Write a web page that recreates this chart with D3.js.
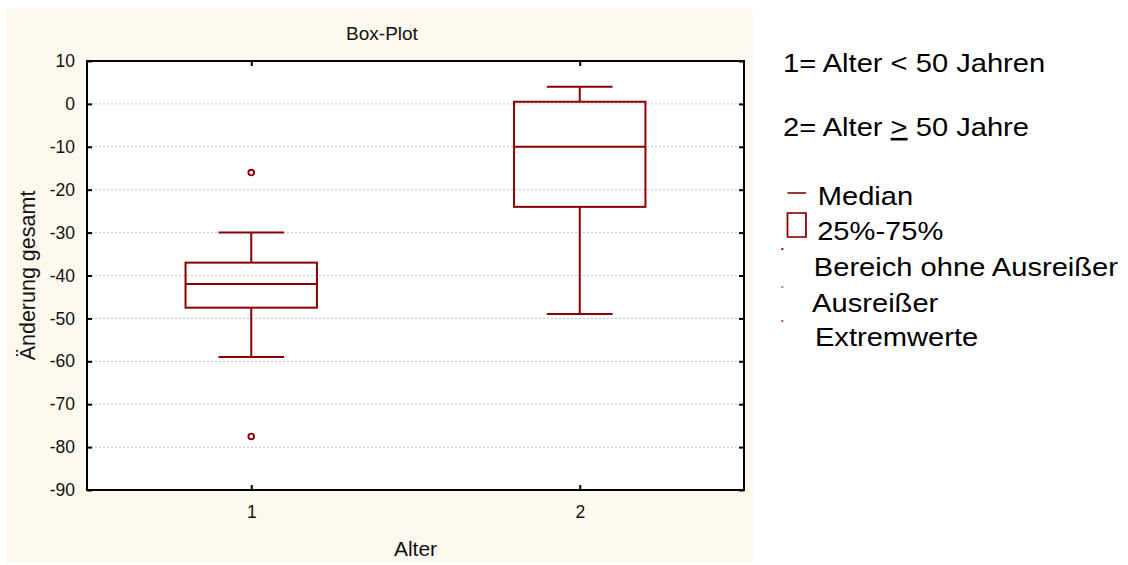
<!DOCTYPE html>
<html>
<head>
<meta charset="utf-8">
<script src="https://cdn.jsdelivr.net/npm/d3@7"></script>
<style>
  html, body { margin: 0; padding: 0; background: #ffffff; }
  svg { display: block; font-family: "Liberation Sans", Arial, sans-serif; }
</style>
</head>
<body>
<svg id="chart" width="1128" height="565"></svg>
<script>
// Box plot of "Änderung gesamt" by age group
const groups = [1, 2];
const groupLabels = ["1", "2"];
const whiskerLow  = [-59, -49];
const q1          = [-47.5, -24];
const median      = [-42, -10];
const q3          = [-37, 0.5];
const whiskerHigh = [-30, 4];
const outlierGroup = [1, 1];
const outlierValue = [-16, -77.5];
const yTicks = [10, 0, -10, -20, -30, -40, -50, -60, -70, -80, -90];

const legendNotes = ["1= Alter < 50 Jahren"];
const legendItems = ["Median", "25%-75%", "Bereich ohne Ausreißer", "Ausreißer", "Extremwerte"];

const boxColor = "#8b0000";

const svg = d3.select("#chart");

// cream panel behind the chart
svg.append("rect")
  .attr("x", 6).attr("y", 9).attr("width", 747).attr("height", 554)
  .attr("fill", "#fef9ee");

const plot = { left: 87, right: 744, top: 61, bottom: 490 };

const x = d3.scaleLinear().domain([0.5, 2.5]).range([plot.left, plot.right]);
const y = d3.scaleLinear().domain([-90, 10]).range([plot.bottom, plot.top]);

// plot background
svg.append("rect")
  .attr("x", plot.left).attr("y", plot.top)
  .attr("width", plot.right - plot.left).attr("height", plot.bottom - plot.top)
  .attr("fill", "#ffffff");

// dotted grid lines
svg.append("g")
  .selectAll("line")
  .data(yTicks.filter(d => d > -90 && d < 10))
  .join("line")
  .attr("x1", plot.left).attr("x2", plot.right)
  .attr("y1", d => y(d)).attr("y2", d => y(d))
  .attr("stroke", "#c4c4c4")
  .attr("stroke-width", 1)
  .attr("stroke-dasharray", "2,2");

// axes with inward ticks
const axisStyle = g => {
  g.selectAll(".domain").remove();
  g.selectAll(".tick line").attr("stroke", "#000").attr("stroke-width", 2);
  g.selectAll(".tick text")
    .attr("fill", "#111")
    .attr("font-size", "17.5px")
    .attr("font-family", "'Liberation Sans', Arial, sans-serif");
};

svg.append("g")
  .attr("transform", `translate(${plot.left},0)`)
  .call(d3.axisLeft(y).tickValues(yTicks).tickFormat(d => String(d))
        .tickSizeInner(-5).tickSizeOuter(0).tickPadding(12))
  .call(axisStyle);

svg.append("g")
  .attr("transform", `translate(${plot.right},0)`)
  .call(d3.axisRight(y).tickValues(yTicks).tickSizeInner(-5).tickSizeOuter(0).tickFormat(""))
  .call(axisStyle);

svg.append("g")
  .attr("transform", `translate(0,${plot.bottom})`)
  .call(d3.axisBottom(x).tickValues(groups).tickFormat((d, i) => groupLabels[i])
        .tickSizeInner(-5).tickSizeOuter(0).tickPadding(16))
  .call(axisStyle);

svg.append("g")
  .attr("transform", `translate(0,${plot.top})`)
  .call(d3.axisTop(x).tickValues(groups).tickSizeInner(-5).tickSizeOuter(0).tickFormat(""))
  .call(axisStyle);

// plot frame
svg.append("rect")
  .attr("x", plot.left).attr("y", plot.top)
  .attr("width", plot.right - plot.left).attr("height", plot.bottom - plot.top)
  .attr("fill", "none").attr("stroke", "#000").attr("stroke-width", 2);

// boxes
const boxHalf = 0.2, capHalf = 0.1;
const boxes = svg.append("g")
  .attr("stroke", boxColor).attr("stroke-width", 2).attr("fill", "none");

groups.forEach((g, i) => {
  const b = boxes.append("g");
  // whisker stems
  b.append("line").attr("x1", x(g)).attr("x2", x(g))
    .attr("y1", y(whiskerHigh[i])).attr("y2", y(q3[i]));
  b.append("line").attr("x1", x(g)).attr("x2", x(g))
    .attr("y1", y(q1[i])).attr("y2", y(whiskerLow[i]));
  // caps
  [whiskerHigh[i], whiskerLow[i]].forEach(v => {
    b.append("line").attr("x1", x(g - capHalf)).attr("x2", x(g + capHalf))
      .attr("y1", y(v)).attr("y2", y(v));
  });
  // interquartile box
  b.append("rect")
    .attr("x", x(g - boxHalf)).attr("y", y(q3[i]))
    .attr("width", x(g + boxHalf) - x(g - boxHalf))
    .attr("height", y(q1[i]) - y(q3[i]));
  // median
  b.append("line").attr("x1", x(g - boxHalf)).attr("x2", x(g + boxHalf))
    .attr("y1", y(median[i])).attr("y2", y(median[i]));
});

// outliers
svg.append("g")
  .selectAll("circle")
  .data(outlierValue.map((v, i) => ({ g: outlierGroup[i], v })))
  .join("circle")
  .attr("cx", d => x(d.g)).attr("cy", d => y(d.v))
  .attr("r", 2.8)
  .attr("fill", "#fff").attr("stroke", boxColor).attr("stroke-width", 1.9);

// titles
svg.append("text")
  .attr("x", 382).attr("y", 40)
  .attr("text-anchor", "middle").attr("font-size", "19px").attr("fill", "#111")
  .text("Box-Plot");

svg.append("text")
  .attr("x", (plot.left + plot.right) / 2).attr("y", 556)
  .attr("text-anchor", "middle").attr("font-size", "21px").attr("fill", "#111")
  .text("Alter");

svg.append("text")
  .attr("transform", `translate(35,${(plot.top + plot.bottom) / 2}) rotate(-90)`)
  .attr("text-anchor", "middle").attr("font-size", "21.5px").attr("fill", "#111")
  .text("Änderung gesamt");

// legend at the right
const legend = svg.append("g")
  .attr("transform", "translate(783,0) scale(1.12,1)")
  .attr("font-size", "26px").attr("fill", "#000");

legend.append("text").attr("x", 0).attr("y", 72).text(legendNotes[0]);

const l2 = legend.append("text").attr("x", 0).attr("y", 136);
l2.append("tspan").text("2= Alter ");
l2.append("tspan").attr("text-decoration", "underline").text(">");
l2.append("tspan").text(" 50 Jahre");

const itemX = [31, 30.5, 27.5, 26, 28.5];
const itemY = [205, 240.5, 276.5, 312.5, 346.5];
legend.selectAll("text.item")
  .data(legendItems)
  .join("text")
  .attr("class", "item")
  .attr("x", (d, i) => itemX[i]).attr("y", (d, i) => itemY[i])
  .text(d => d);

// legend symbols
legend.append("line")
  .attr("x1", 4).attr("x2", 20.5).attr("y1", 193).attr("y2", 193)
  .attr("stroke", boxColor).attr("stroke-width", 1.6);
legend.append("rect")
  .attr("x", 4).attr("y", 213).attr("width", 16.5).attr("height", 24)
  .attr("fill", "none").attr("stroke", boxColor).attr("stroke-width", 1.6);
const dotColors = ["#a01010", "#d08080", "#c05050"];
const dotY = [248, 286, 320];
legend.selectAll("rect.dot")
  .data(dotY)
  .join("rect")
  .attr("class", "dot")
  .attr("x", -1.5).attr("y", d => d).attr("width", 1.8).attr("height", 2)
  .attr("fill", (d, i) => dotColors[i]);
</script>
</body>
</html>
